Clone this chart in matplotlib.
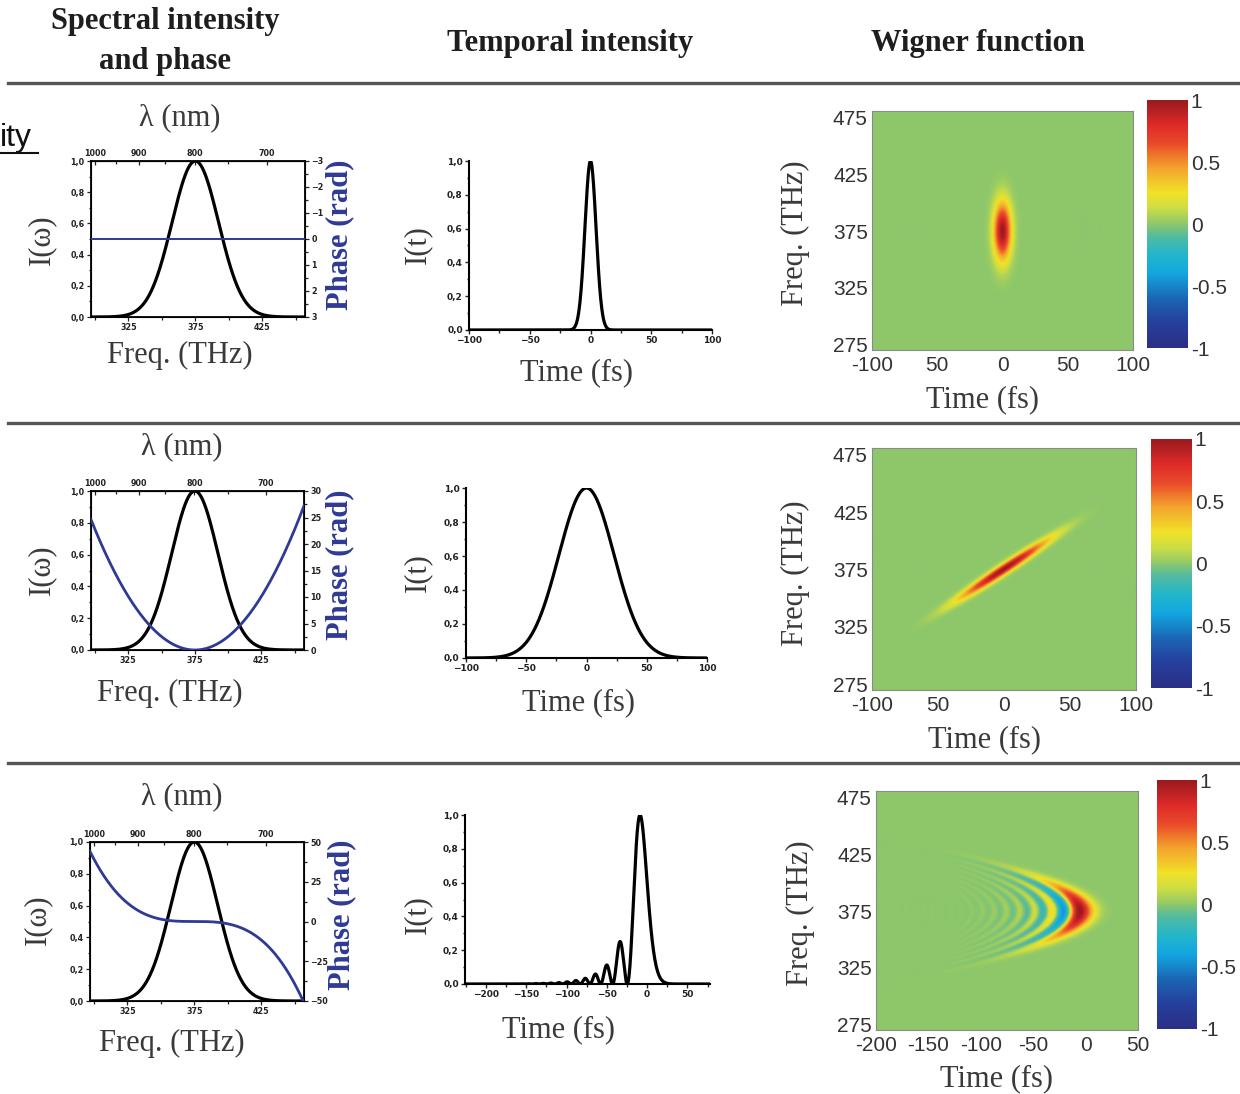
import numpy as np
import matplotlib
matplotlib.use("Agg")
import matplotlib.pyplot as plt
from matplotlib.colors import LinearSegmentedColormap
from matplotlib.ticker import MultipleLocator, FixedLocator, FuncFormatter
from matplotlib.lines import Line2D

W_PX, H_PX = 1240, 1094

# ---------------- data ----------------
column_titles = ["Spectral intensity", "and phase", "Temporal intensity", "Wigner function"]
center_freq_thz = 375.0
spectral_fwhm_thz = [41.0, 41.0, 41.0]      # spectral intensity FWHM per row
gdd_fs2 = [0.0, 205.0, 0.0]                 # 2nd order spectral phase per row
tod_fs3 = [0.0, 0.0, -2245.0]               # 3rd order spectral phase per row

freq_limits_thz = (297.0, 457.0)
freq_ticks_thz = [325, 375, 425]
wavelength_ticks_nm = [1000, 900, 800, 700]
wavelength_minor_nm = [950, 850, 750]
phase_limits = [(3, -3), (0, 30), (-50, 50)]
phase_ticks = [[-3, -2, -1, 0, 1, 2, 3], [0, 5, 10, 15, 20, 25, 30], [-50, -25, 0, 25, 50]]
intensity_ticks = [0.0, 0.2, 0.4, 0.6, 0.8, 1.0]

time_limits_fs = [(-100, 100), (-100, 100), (-226, 78)]
time_ticks_fs = [[-100, -50, 0, 50, 100], [-100, -50, 0, 50, 100], [-200, -150, -100, -50, 0, 50]]

wigner_time_limits = [(-100, 100), (-100, 100), (-200, 50)]
wigner_time_ticks = [[-100, -50, 0, 50, 100], [-100, -50, 0, 50, 100], [-200, -150, -100, -50, 0, 50]]
wigner_time_labels = [["-100", "50", "0", "50", "100"], ["-100", "50", "0", "50", "100"],
                      ["-200", "-150", "-100", "-50", "0", "50"]]
wigner_freq_limits = (270, 481)
wigner_freq_ticks = [275, 325, 375, 425, 475]
colorbar_ticks = [-1, -0.5, 0, 0.5, 1]
colorbar_labels = ["-1", "-0.5", "0", "0.5", "1"]

# ---------------- physics: field from spectral amplitude & phase ----------------
def spectral_field(nu, k):
    d = nu - center_freq_thz
    dw = 2 * np.pi * d * 1e-3            # rad/fs
    amp = np.exp(-2 * np.log(2) * (d / spectral_fwhm_thz[k]) ** 2)
    ph = gdd_fs2[k] / 2 * dw ** 2 + tod_fs3[k] / 6 * dw ** 3
    return amp, ph


def temporal_intensity(t, k):
    nu = np.arange(150, 600.01, 0.25)
    a, p = spectral_field(nu, k)
    E = a * np.exp(1j * p)
    kern = np.exp(-2j * np.pi * np.outer(t, (nu - center_freq_thz) * 1e-3))
    I = np.abs(kern @ E) ** 2
    return I / I.max()


def wigner(t, nu, k):
    xi = np.arange(-300, 300.01, 0.5)
    a1, p1 = spectral_field(nu[:, None] + xi[None, :] / 2, k)
    a2, p2 = spectral_field(nu[:, None] - xi[None, :] / 2, k)
    prod = a1 * a2 * np.exp(1j * (p1 - p2))
    kern = np.exp(-2j * np.pi * np.outer(xi * 1e-3, t))
    Wm = (prod @ kern).real
    return Wm / Wm.max()


# ---------------- styling / layout ----------------
cmap_nodes = [(-1.0, '#2b2f86'), (-0.8, '#253f9c'), (-0.6, '#1b66b4'), (-0.4, '#12a6e0'),
              (-0.25, '#22b6cc'), (-0.1, '#52baa0'), (0.0, '#8dc76b'), (0.12, '#c9dc46'),
              (0.25, '#f0e228'), (0.45, '#f3a52c'), (0.65, '#ea4a2a'), (0.8, '#de2a28'),
              (1.0, '#9a1a1e')]
cmap = LinearSegmentedColormap.from_list('wig', [((v + 1) / 2, c) for v, c in cmap_nodes])

SERIF = 'Liberation Serif'
LABEL_COLOR = '#3a3a3a'
BLUE = '#2e3a94'
SMALL_SIZE = 5.8

spec_box = [(91, 161, 305, 317), (91, 491, 304, 650), (90, 842, 304, 1001)]
temp_box = [(469, 161, 712, 330), (466, 488, 707, 658), (465, 815, 710, 984)]
wig_box = [(872, 111, 1133, 350), (872, 448, 1136, 690), (876, 791, 1138, 1030)]
cbar_box = [(1147, 100, 1188, 348), (1151, 439, 1192, 688), (1157, 780, 1197, 1029)]

lam_label_pos = [(180, 118), (182, 447), (182, 797)]
freq_label_pos = [(180, 355), (170, 693), (172, 1043)]
iomega_pos = [(42, 240), (42, 570), (38, 920)]
phase_label_pos = [(340, 235), (340, 565), (342, 915)]
it_pos = [(418, 245), (418, 573), (418, 915)]
time_label_pos = [(577, 373), (578, 703), (558, 1030)]
wfreq_pos = [(795, 233), (795, 573), (800, 913)]
wtime_pos = [(982, 400), (985, 740), (997, 1079)]
sep_y = [83, 423, 763]

fig = plt.figure(figsize=(W_PX / 100, H_PX / 100), dpi=100)
fig.patch.set_facecolor('white')


def fx(x):
    return x / W_PX


def fy(y):
    return 1 - y / H_PX


def px_axes(b):
    x0, y0, x1, y1 = b
    return fig.add_axes([fx(x0), fy(y1), (x1 - x0) / W_PX, (y1 - y0) / H_PX])


def ftext(x, y, s, **kw):
    kw.setdefault('ha', 'center')
    kw.setdefault('va', 'center')
    fig.text(fx(x), fy(y), s, **kw)


comma = FuncFormatter(lambda v, p: f'{v:.1f}'.replace('.', ','))

# header
ftext(165, 22, column_titles[0], family=SERIF, weight='bold', size=22, color='#1e1e1e')
ftext(165, 62, column_titles[1], family=SERIF, weight='bold', size=22, color='#1e1e1e')
ftext(570, 43, column_titles[2], family=SERIF, weight='bold', size=22, color='#1e1e1e')
ftext(978, 43, column_titles[3], family=SERIF, weight='bold', size=22, color='#1e1e1e')
for y in sep_y:
    fig.add_artist(Line2D([fx(8), fx(1240)], [fy(y), fy(y)], transform=fig.transFigure,
                          color='#555555', lw=2.4))

# stray text fragment at left
fig.text(fx(0), fy(146), "ity", family='Liberation Sans', size=23, color='#111111',
         ha='left', va='baseline')
fig.add_artist(Line2D([fx(0), fx(38)], [fy(153), fy(153)], transform=fig.transFigure,
                      color='#111111', lw=1.5))

nu_plot = np.linspace(freq_limits_thz[0], freq_limits_thz[1], 800)


def bold_small(labels):
    for lab in labels:
        lab.set_fontweight('bold')
        lab.set_family('DejaVu Sans')


for k in range(3):
    # ---------- spectral intensity and phase ----------
    ax = px_axes(spec_box[k])
    amp, ph = spectral_field(nu_plot, k)
    ax.plot(nu_plot, amp ** 2, color='black', lw=2.3, solid_capstyle='round', zorder=3)
    ax.set_xlim(*freq_limits_thz)
    ax.set_ylim(0, 1.0)
    ax.xaxis.set_major_locator(FixedLocator(freq_ticks_thz))
    ax.xaxis.set_minor_locator(MultipleLocator(25))
    ax.yaxis.set_major_locator(FixedLocator(intensity_ticks))
    ax.yaxis.set_minor_locator(MultipleLocator(0.1))
    ax.yaxis.set_major_formatter(comma)
    for sp in ax.spines.values():
        sp.set_linewidth(1.3)
    ax.tick_params(which='both', direction='out', width=0.9, pad=1.5, labelsize=SMALL_SIZE,
                   colors='#222222')
    ax.tick_params(which='major', length=3)
    ax.tick_params(which='minor', length=1.8)
    bold_small(ax.get_xticklabels() + ax.get_yticklabels())

    axr = ax.twinx()
    axr.plot(nu_plot, ph, color=BLUE, lw=1.4 if k == 0 else 2.0, zorder=4)
    axr.set_ylim(*phase_limits[k])
    axr.yaxis.set_major_locator(FixedLocator(phase_ticks[k]))
    step = abs(phase_ticks[k][1] - phase_ticks[k][0]) / 2
    axr.yaxis.set_minor_locator(MultipleLocator(step))
    axr.tick_params(which='both', direction='out', width=0.9, pad=1.5, labelsize=SMALL_SIZE,
                    colors='#222222')
    axr.tick_params(which='major', length=3)
    axr.tick_params(which='minor', length=1.8)
    bold_small(axr.get_yticklabels())

    c_nm = 299792.458
    sec = ax.secondary_xaxis('top', functions=(lambda v: c_nm / v, lambda v: c_nm / v))
    sec.xaxis.set_major_locator(FixedLocator(wavelength_ticks_nm))
    sec.xaxis.set_minor_locator(FixedLocator(wavelength_minor_nm))
    sec.tick_params(which='both', direction='in', width=0.9, pad=2, labelsize=SMALL_SIZE,
                    colors='#222222')
    sec.tick_params(which='major', length=3)
    sec.tick_params(which='minor', length=1.8)
    sec.set_xticks(wavelength_ticks_nm, [str(v) for v in wavelength_ticks_nm],
                   fontweight='bold', family='DejaVu Sans')

    ftext(*lam_label_pos[k], "λ (nm)", family=SERIF, size=22, color=LABEL_COLOR)
    ftext(*freq_label_pos[k], "Freq. (THz)", family=SERIF, size=22, color=LABEL_COLOR)
    ftext(*iomega_pos[k], "I(ω)", family=SERIF, size=22, color=LABEL_COLOR, rotation=90)
    ftext(*phase_label_pos[k], "Phase (rad)", family=SERIF, size=22, weight='bold',
          color=BLUE, rotation=90)

    # ---------- temporal intensity ----------
    axt = px_axes(temp_box[k])
    t_plot = np.linspace(time_limits_fs[k][0], time_limits_fs[k][1], 1400)
    It = temporal_intensity(t_plot, k)
    axt.plot(t_plot, It, color='black', lw=2.3)
    axt.set_xlim(*time_limits_fs[k])
    axt.set_ylim(0, 1.0)
    axt.spines['top'].set_visible(False)
    axt.spines['right'].set_visible(False)
    for s in ('left', 'bottom'):
        axt.spines[s].set_linewidth(1.5)
    axt.xaxis.set_major_locator(FixedLocator(time_ticks_fs[k]))
    axt.xaxis.set_minor_locator(MultipleLocator(25))
    axt.yaxis.set_major_locator(FixedLocator(intensity_ticks))
    axt.yaxis.set_minor_locator(MultipleLocator(0.1))
    axt.yaxis.set_major_formatter(comma)
    axt.tick_params(which='both', direction='out', width=1.0, pad=1.5, labelsize=6.5,
                    colors='#222222')
    axt.tick_params(which='major', length=3)
    axt.tick_params(which='minor', length=1.8)
    bold_small(axt.get_xticklabels() + axt.get_yticklabels())
    ftext(*it_pos[k], "I(t)", family=SERIF, size=22, color=LABEL_COLOR, rotation=90)
    ftext(*time_label_pos[k], "Time (fs)", family=SERIF, size=22, color=LABEL_COLOR)

    # ---------- Wigner function ----------
    axw = px_axes(wig_box[k])
    tw = np.linspace(wigner_time_limits[k][0], wigner_time_limits[k][1], 520)
    nw = np.linspace(wigner_freq_limits[0], wigner_freq_limits[1], 430)
    Wm = wigner(tw, nw, k)
    im = axw.imshow(Wm, origin='lower', aspect='auto', cmap=cmap, vmin=-1, vmax=1,
                    extent=[tw[0], tw[-1], nw[0], nw[-1]], interpolation='bilinear')
    axw.set_xlim(*wigner_time_limits[k])
    axw.set_ylim(*wigner_freq_limits)
    axw.set_xticks(wigner_time_ticks[k], wigner_time_labels[k])
    axw.set_yticks(wigner_freq_ticks, [str(v) for v in wigner_freq_ticks])
    axw.tick_params(axis='x', length=0, labelsize=15, colors='#333333', pad=4)
    axw.tick_params(axis='y', length=0, labelsize=15, colors='#333333', pad=3)
    for lab in axw.get_xticklabels() + axw.get_yticklabels():
        lab.set_family('Liberation Sans')
    ylabs = axw.get_yticklabels()
    ylabs[0].set_verticalalignment('center_baseline')
    for sp in axw.spines.values():
        sp.set_color('#8a8a8a')
        sp.set_linewidth(0.8)
    cax = px_axes(cbar_box[k])
    cb = fig.colorbar(im, cax=cax, ticks=colorbar_ticks)
    cb.set_ticklabels(colorbar_labels)
    cb.outline.set_visible(False)
    cax.tick_params(length=0, labelsize=15, colors='#333333', pad=2)
    for lab in cax.get_yticklabels():
        lab.set_family('Liberation Sans')
    ftext(*wfreq_pos[k], "Freq. (THz)", family=SERIF, size=22, color=LABEL_COLOR, rotation=90)
    ftext(*wtime_pos[k], "Time (fs)", family=SERIF, size=22, color=LABEL_COLOR)

fig.savefig('out.png', dpi=100, facecolor='white')
